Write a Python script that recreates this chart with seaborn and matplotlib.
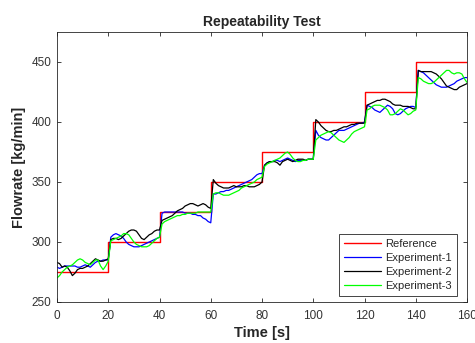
import numpy as np
import pandas as pd
import matplotlib
matplotlib.use("Agg")
import matplotlib.pyplot as plt
import seaborn as sns

# ---- data ----
step_starts = [0, 20, 40, 60, 80, 100, 120, 140, 160]
ref_levels = [275, 300, 325, 350, 375, 400, 425, 450, 450]

time_s = list(range(0, 161))

exp1 = [279, 278, 279, 280, 280, 280, 280, 280, 279, 279, 280, 281, 280, 279, 281, 283, 284, 284, 285, 285, 285,
        304, 306, 307, 306, 305, 303, 300, 298, 297, 296, 296, 296, 297, 298, 299, 300, 301, 302, 303, 304,
        324, 325, 325, 325, 325, 325, 325, 325, 325, 324, 324, 324, 323, 323, 322, 322, 320, 319, 317, 316,
        340, 340, 341, 342, 342, 343, 343, 344, 345, 346, 347, 348, 349, 350, 351, 352, 354, 356, 357, 357,
        364, 366, 367, 367, 368, 368, 367, 368, 369, 370, 369, 368, 367, 368, 368, 368, 368, 369, 369, 369,
        393, 389, 387, 386, 385, 385, 387, 389, 391, 393, 393, 393, 394, 395, 396, 397, 398, 399, 399, 400,
        414, 413, 412, 410, 409, 408, 410, 412, 414, 413, 411, 407, 406, 407, 409, 411, 412, 413, 413, 412,
        443, 442, 441, 439, 437, 435, 433, 431, 430, 429, 429, 429, 430, 431, 432, 434, 435, 436, 437, 437]

exp2 = [283, 282, 279, 280, 279, 276, 272, 274, 277, 278, 278, 279, 280, 282, 284, 286, 285, 284, 284, 285, 286,
        302, 303, 303, 302, 303, 305, 307, 309, 310, 310, 309, 306, 303, 302, 304, 306, 307, 309, 310, 310,
        318, 319, 320, 321, 322, 324, 326, 327, 328, 330, 331, 332, 332, 331, 330, 331, 332, 331, 329, 328,
        352, 349, 347, 346, 345, 345, 345, 346, 347, 346, 346, 346, 347, 347, 346, 346, 346, 347, 348, 350,
        364, 366, 367, 367, 367, 366, 364, 367, 368, 369, 368, 367, 368, 369, 369, 369, 368, 369, 369, 369,
        402, 400, 397, 395, 393, 392, 392, 393, 393, 394, 395, 396, 396, 397, 398, 398, 399, 399, 399, 399,
        414, 415, 416, 417, 418, 418, 419, 419, 418, 417, 415, 414, 414, 414, 413, 413, 413, 412, 411, 411,
        443, 442, 442, 442, 442, 442, 441, 440, 438, 436, 433, 430, 429, 428, 427, 427, 429, 430, 431, 432]

exp3 = [270, 272, 275, 277, 279, 280, 281, 283, 285, 286, 285, 283, 282, 281, 283, 285, 285, 280, 277, 280, 284,
        301, 302, 303, 304, 305, 307, 307, 306, 303, 300, 298, 297, 296, 296, 296, 297, 299, 301, 303, 304,
        315, 317, 318, 319, 320, 321, 322, 322, 323, 323, 324, 324, 324, 324, 325, 325, 325, 325, 325, 325,
        340, 341, 341, 340, 339, 339, 339, 340, 341, 342, 343, 345, 346, 347, 348, 349, 350, 352, 353, 354,
        363, 365, 366, 367, 368, 369, 370, 372, 374, 375, 373, 370, 368, 367, 367, 368, 368, 369, 369, 369,
        385, 387, 389, 390, 391, 392, 391, 389, 387, 385, 384, 383, 385, 387, 390, 392, 393, 394, 395, 396,
        410, 411, 413, 414, 414, 414, 413, 412, 410, 406, 406, 407, 409, 411, 410, 408, 406, 407, 409, 410,
        437, 436, 434, 433, 432, 432, 433, 435, 437, 439, 441, 443, 443, 441, 440, 441, 441, 440, 436, 433]

labels = ["Reference", "Experiment-1", "Experiment-2", "Experiment-3"]
colors = ["#ff0000", "#0000ff", "#000000", "#00ff00"]
x_ticks = [0, 20, 40, 60, 80, 100, 120, 140, 160]
y_ticks = [250, 300, 350, 400, 450]

# ---- style ----
sns.set_style("ticks")
plt.rcParams['font.family'] = ['Liberation Sans', 'DejaVu Sans']
plt.rcParams['xtick.direction'] = 'in'
plt.rcParams['ytick.direction'] = 'in'

fig = plt.figure(figsize=(4.75, 3.43), dpi=100)
ax = fig.add_axes([57 / 475, 1 - 302 / 343, (467 - 57) / 475, (302 - 32) / 343])

sns.lineplot(x=step_starts, y=ref_levels, ax=ax, color=colors[0], lw=1.0,
             drawstyle='steps-post', label=labels[0])
for ys, lab, col in zip([exp1, exp2, exp3], labels[1:], colors[1:]):
    sns.lineplot(x=time_s, y=ys, ax=ax, color=col, lw=0.9, label=lab)

ax.set_xlim(0, 160)
ax.set_ylim(250, 475)
ax.set_xticks(x_ticks)
ax.set_yticks(y_ticks)
ax.tick_params(axis='both', which='both', labelsize=8.5, labelcolor='#333333',
               color='#262626', length=3, width=0.6, top=True, right=True)
ax.tick_params(axis='x', pad=6)
ax.tick_params(axis='y', pad=4)
for s in ax.spines.values():
    s.set_visible(True)
    s.set_color('#262626')
    s.set_linewidth(0.6)

ax.set_title("Repeatability Test", fontsize=10, fontweight='bold', pad=4)
ax.set_xlabel("Time [s]", fontsize=10.5, fontweight='bold', labelpad=3)
ax.set_ylabel("Flowrate [kg/min]", fontsize=10.5, fontweight='bold', labelpad=4)

leg = ax.legend(loc='lower right', bbox_to_anchor=((457 - 57) / 410, (302 - 296) / 270),
                borderaxespad=0, fontsize=8, frameon=True, fancybox=False,
                framealpha=1, edgecolor='#262626', borderpad=0.45,
                handlelength=3.3, handletextpad=0.4, labelspacing=0.35)
leg.get_frame().set_linewidth(0.6)

fig.savefig("out.png", dpi=100)
